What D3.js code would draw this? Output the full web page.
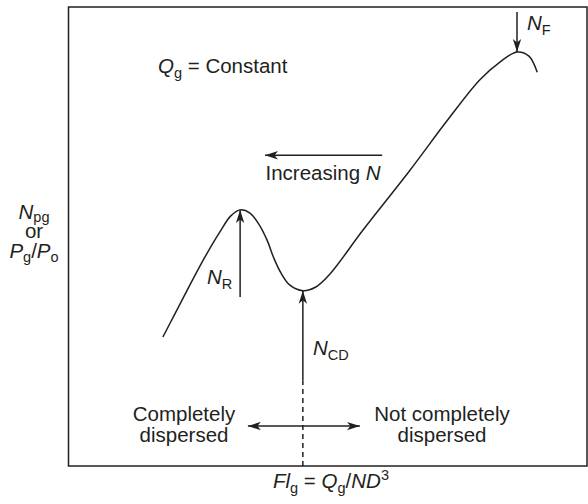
<!DOCTYPE html>
<html>
<head>
<meta charset="utf-8">
<script src="https://cdn.jsdelivr.net/npm/d3@7"></script>
<style>
  html, body { margin: 0; padding: 0; background: #fff; }
  svg { display: block; }
  text { font-family: "Liberation Sans", Arial, sans-serif; fill: #231f20; }
</style>
</head>
<body>
<svg id="chart" width="588" height="504"></svg>
<script>
// Power number vs. gas flow number at constant gas rate (schematic, relative units 0–10)
const flowNumber = [1.82, 2.05, 2.34, 2.63, 2.92, 3.13, 3.31, 3.50, 3.67, 3.83, 3.96, 4.10, 4.27, 4.52, 4.77, 5.04, 5.68, 6.59, 7.30, 7.93, 8.32, 8.65, 8.88, 9.04];
const powerRatio = [2.81, 3.31, 3.94, 4.55, 5.10, 5.45, 5.58, 5.51, 5.27, 4.92, 4.53, 4.20, 3.94, 3.82, 3.90, 4.18, 5.14, 6.45, 7.52, 8.41, 8.80, 9.02, 8.93, 8.58];

// Characteristic points on the curve
const recirculation = { x: 3.31, y: 5.58 };      // N_R
const completeDispersion = { x: 4.52, y: 3.82 }; // N_CD
const flooding = { x: 8.65, y: 9.02 };           // N_F

const xDomain = [0, 10];
const yDomain = [0, 10];

const svg = d3.select("#chart");
const frame = { left: 68.5, right: 587, top: 7, bottom: 466 };

const x = d3.scaleLinear().domain(xDomain).range([frame.left, frame.right]);
const y = d3.scaleLinear().domain(yDomain).range([frame.bottom, frame.top]);

const ink = "#231f20";

// Arrowhead marker
const defs = svg.append("defs");
defs.append("marker")
  .attr("id", "head")
  .attr("viewBox", "-13 -5 14 10")
  .attr("refX", 0).attr("refY", 0)
  .attr("markerWidth", 14).attr("markerHeight", 10)
  .attr("markerUnits", "userSpaceOnUse")
  .attr("orient", "auto-start-reverse")
  .append("path")
  .attr("d", "M0,0 L-13,-4.2 L-9.5,0 L-13,4.2 Z")
  .attr("fill", ink);

// Frame
svg.append("rect")
  .attr("x", frame.left).attr("y", frame.top)
  .attr("width", frame.right - frame.left).attr("height", frame.bottom - frame.top)
  .attr("fill", "none").attr("stroke", ink).attr("stroke-width", 1.5);

// Curve
const pts = flowNumber.map((v, i) => [v, powerRatio[i]]);
svg.append("path")
  .datum(pts)
  .attr("fill", "none")
  .attr("stroke", ink)
  .attr("stroke-width", 1.5)
  .attr("d", d3.line().x(d => x(d[0])).y(d => y(d[1])).curve(d3.curveCatmullRom.alpha(0.5)));

function arrow(x1, y1, x2, y2, opts = {}) {
  const l = svg.append("line")
    .attr("x1", x(x1)).attr("y1", y(y1))
    .attr("x2", x(x2)).attr("y2", y(y2))
    .attr("stroke", ink).attr("stroke-width", 1.5);
  if (opts.end !== false) l.attr("marker-end", "url(#head)");
  if (opts.start) l.attr("marker-start", "url(#head)");
  if (opts.dash) l.attr("stroke-dasharray", opts.dash);
  return l;
}

// N_R arrow (up to the first maximum)
arrow(recirculation.x, 3.68, recirculation.x, recirculation.y);
// N_CD arrow (up to the minimum) plus dashed divider to the axis
arrow(completeDispersion.x, 1.87, completeDispersion.x, completeDispersion.y);
arrow(completeDispersion.x, 0, completeDispersion.x, 1.87, { end: false, dash: "5,4" });
// N_F arrow (down to the flooding maximum)
arrow(flooding.x, 9.89, flooding.x, flooding.y);
// Increasing N arrow (pointing left)
arrow(6.05, 6.77, 3.79, 6.77);
// Dispersion regime double arrow
arrow(5.62, 0.87, 3.46, 0.87, { start: true });

// Rich text helper: parts = [text, style] where style: i (italic), sub, sup
function rich(px, py, parts, opts = {}) {
  const t = svg.append("text")
    .attr("x", px).attr("y", py)
    .attr("font-size", opts.size || 20.5)
    .attr("text-anchor", opts.anchor || "start");
  const subShift = opts.subShift || 4.5;
  let shift = 0;
  parts.forEach(([s, st]) => {
    const sp = t.append("tspan").text(s);
    let target = 0;
    if (st && st.includes("sub")) target = subShift;
    if (st && st.includes("sup")) target = -8;
    if (target !== shift) { sp.attr("dy", target - shift); shift = target; }
    if (st && (st.includes("sub") || st.includes("sup"))) sp.attr("font-size", 14.5);
    if (st && st.includes("i")) sp.attr("font-style", "italic");
  });
  return t;
}

rich(158, 73, [["Q", "i"], ["g", "sub"], [" = Constant", ""]]);
rich(323, 180, [["Increasing ", ""], ["N", "i"]], { anchor: "middle" });

rich(34, 219, [["N", "i"], ["pg", "sub"]], { anchor: "middle", subShift: 3 });
rich(34, 238, [["or", ""]], { anchor: "middle" });
rich(34, 258, [["P", "i"], ["g", "sub"], ["/", ""], ["P", "i"], ["o", "sub"]], { anchor: "middle", subShift: 3.5 });

rich(207, 284, [["N", "i"], ["R", "sub"]]);
rich(313, 355, [["N", "i"], ["CD", "sub"]]);
rich(527, 30, [["N", "i"], ["F", "sub"]]);

rich(184, 421, [["Completely", ""]], { anchor: "middle" });
rich(184, 442, [["dispersed", ""]], { anchor: "middle" });
rich(442, 421, [["Not completely", ""]], { anchor: "middle" });
rich(442, 442, [["dispersed", ""]], { anchor: "middle" });

rich(331, 488, [["Fl", "i"], ["g", "sub"], [" = ", ""], ["Q", "i"], ["g", "sub"], ["/", ""], ["ND", "i"], ["3", "sup"]], { anchor: "middle" });
</script>
</body>
</html>
